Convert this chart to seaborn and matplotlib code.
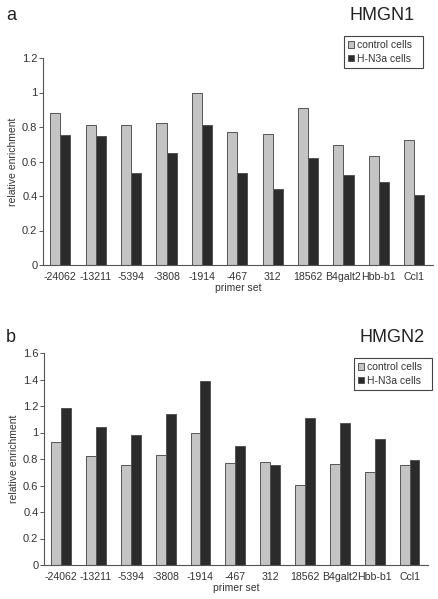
import numpy as np
import pandas as pd
import matplotlib
matplotlib.use("Agg")
import matplotlib.pyplot as plt
import seaborn as sns
from matplotlib.ticker import FuncFormatter, FixedLocator

# data
primers = ['-24062', '-13211', '-5394', '-3808', '-1914', '-467', '312',
           '18562', 'B4galt2', 'Hbb-b1', 'Ccl1']
hmgn1_control = [0.88, 0.81, 0.81, 0.826, 1.0, 0.77, 0.757, 0.91, 0.693, 0.629, 0.724]
hmgn1_hn3a = [0.753, 0.747, 0.532, 0.65, 0.809, 0.532, 0.439, 0.619, 0.521, 0.482, 0.408]
hmgn2_control = [0.925, 0.821, 0.753, 0.831, 1.0, 0.768, 0.779, 0.607, 0.763, 0.703, 0.753]
hmgn2_hn3a = [1.184, 1.043, 0.983, 1.136, 1.388, 0.9, 0.753, 1.111, 1.071, 0.95, 0.796]
groups = ['control cells', 'H-N3a cells']

sns.set_style("white")
plt.rcParams['font.family'] = ['Liberation Sans', 'DejaVu Sans']
txt = '#333333'
palette = {'control cells': '#c4c4c4', 'H-N3a cells': '#2b2b2b'}

fig = plt.figure(figsize=(4.39, 5.99), dpi=100)
W, H = 439, 599


def make_df(ctrl, hn):
    return pd.DataFrame({
        'primer set': primers * 2,
        'value': ctrl + hn,
        'cells': [groups[0]] * len(primers) + [groups[1]] * len(primers),
    })


def panel(rect, df, ymax, letter, title, leg_rect):
    l, t, r, b = rect
    ax = fig.add_axes([l / W, 1 - b / H, (r - l) / W, (b - t) / H])
    sns.barplot(data=df, x='primer set', y='value', hue='cells', palette=palette,
                width=0.57, edgecolor='#555555', linewidth=0.7, ax=ax)
    ax.set_ylim(0, ymax)
    ax.set_xlim(-0.49, len(primers) - 0.47)
    ax.set_yticks(np.arange(0, ymax + 0.01, 0.2))
    ax.yaxis.set_major_formatter(FuncFormatter(lambda v, p: '%g' % round(v, 1)))
    ax.xaxis.set_minor_locator(FixedLocator(np.arange(0.5, len(primers) - 1, 1.0)))
    ax.tick_params(axis='x', which='major', length=0, labelsize=7.6, colors=txt, pad=5)
    ax.tick_params(axis='x', which='minor', length=3, width=0.7, color='#555555', direction='out')
    ax.tick_params(axis='y', length=3, width=0.7, color='#555555', labelsize=8, labelcolor=txt, pad=1,
                   left=True, direction='out')
    for s in ['top', 'right']:
        ax.spines[s].set_visible(False)
    for s in ['left', 'bottom']:
        ax.spines[s].set_color('#555555')
        ax.spines[s].set_linewidth(0.8)
    ax.set_xlabel('primer set', fontsize=7.5, color=txt, labelpad=1)
    ax.set_ylabel('relative enrichment', fontsize=7.5, color=txt, labelpad=3)
    handles, labels = ax.get_legend_handles_labels()
    ax.legend(handles, labels, loc='lower left',
              bbox_to_anchor=(leg_rect[0] / W, 1 - leg_rect[3] / H,
                              (leg_rect[2] - leg_rect[0]) / W, (leg_rect[3] - leg_rect[1]) / H),
              bbox_transform=fig.transFigure, mode='expand',
              fontsize=7.5, handlelength=0.55, handleheight=0.55, handletextpad=0.3,
              borderpad=0.4, labelspacing=0.35, frameon=True, fancybox=False,
              edgecolor='#444444', framealpha=1, borderaxespad=0, labelcolor=txt)
    ax.get_legend().get_frame().set_linewidth(0.8)
    fig.text(letter[0] / W, 1 - letter[1] / H, letter[2], fontsize=13, color='#222222',
             ha='left', va='center')
    fig.text(title[0] / W, 1 - title[1] / H, title[2], fontsize=13, color='#222222',
             ha='center', va='center')
    return ax


panel((43, 58, 433, 265), make_df(hmgn1_control, hmgn1_hn3a), 1.2,
      (6, 16, 'a'), (382, 15, 'HMGN1'), (344, 34, 423, 68))
panel((44, 353, 428, 565), make_df(hmgn2_control, hmgn2_hn3a), 1.6,
      (6, 338, 'b'), (392, 338, 'HMGN2'), (354, 357, 432, 390))

fig.savefig('out.png', dpi=100)
